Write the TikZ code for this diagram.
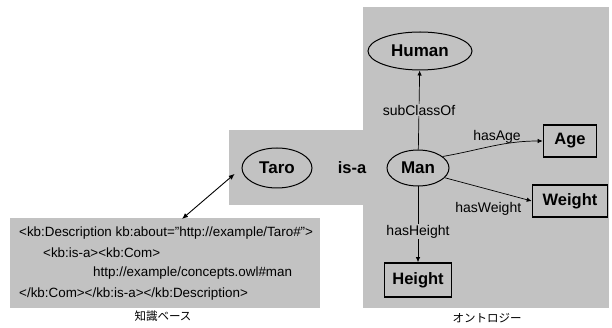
\documentclass[tikz,border=0pt]{standalone}
\usepackage{fontspec}
\setmainfont{Liberation Sans}
\newfontfamily\jpfont{Noto Sans CJK JP}
\usetikzlibrary{shapes.geometric,arrows.meta}
\definecolor{bgray}{gray}{0.76}
\tikzset{
  panel/.style={fill=bgray,draw=none},
  cls/.style={ellipse,draw=black,line width=1pt,fill=bgray,font=\fontsize{17}{18}\selectfont\bfseries,inner sep=0pt},
  lit/.style={rectangle,draw=black,line width=1.6pt,fill=bgray,font=\fontsize{16.5}{18}\selectfont\bfseries,inner sep=2pt},
  elab/.style={font=\fontsize{14}{15}\selectfont,inner sep=1pt},
  rel/.style={draw=black,line width=0.7pt,-{Latex[length=5pt,width=4.5pt]}},
  rdf/.style={font=\fontsize{13.4}{14}\selectfont,anchor=west,inner sep=0pt},
  capt/.style={font=\jpfont\fontsize{11.5}{12}\selectfont}
}
\begin{document}
\begin{tikzpicture}[x=1pt,y=-1pt]
\useasboundingbox (0,0) rectangle (612,328);
% panels
\fill[panel] (363,7) rectangle (609,308);
\fill[panel] (229,130) rectangle (363,205);
\fill[panel] (10,218) rectangle (320,308);
% ontology nodes
\node[cls,minimum width=104pt,minimum height=38pt] (human) at (420,51) {Human};
\node[cls,minimum width=62pt,minimum height=36pt] (man) at (418,168) {Man};
\node[lit,minimum width=53pt,minimum height=32pt] (age) at (570,141) {Age};
\node[lit,minimum width=75pt,minimum height=32pt] (weight) at (570,201) {Weight};
\node[lit,minimum width=67pt,minimum height=34pt] (height) at (418,280) {Height};
% knowledge base nodes
\node[cls,minimum width=70pt,minimum height=40pt] (taro) at (277,168) {Taro};
\node[font=\fontsize{16.5}{18}\selectfont\bfseries,inner sep=0pt] (isa) at (352,168) {is-a};
% edges
\draw[rel] (man) -- node[elab,pos=0.5,fill=bgray] (l1) {subClassOf} (human);
\draw[rel] (man.25) to[out=10,in=180] node[elab,pos=0.55,above=1pt] (l2) {hasAge} (age.west);
\draw[rel] (man.-20) -- node[elab,pos=0.5,below=12pt] (l3) {hasWeight} (weight.west);
\draw[rel] (man) -- node[elab,pos=0.6,fill=bgray] (l4) {hasHeight} (height);
% rdf text
\node[rdf] (r1) at (19,233) {<kb:Description kb:about="http://example/Taro\#">};
\node[rdf] (r2) at (43,253) {<kb:is-a><kb:Com>};
\node[rdf] (r3) at (93,273) {http://example/concepts.owl\#man};
\node[rdf] (r4) at (19,294) {</kb:Com></kb:is-a></kb:Description>};
\coordinate (kbtop) at (182,219);
\draw[line width=0.9pt,{Latex[length=6pt,width=5pt]}-{Latex[length=6pt,width=5pt]},shorten >=9pt] (kbtop) -- (taro.west);
% captions
\node[capt] (c1) at (163,316) {知識ベース};
\node[capt] (c2) at (487,318) {オントロジー};
\end{tikzpicture}
\end{document}
